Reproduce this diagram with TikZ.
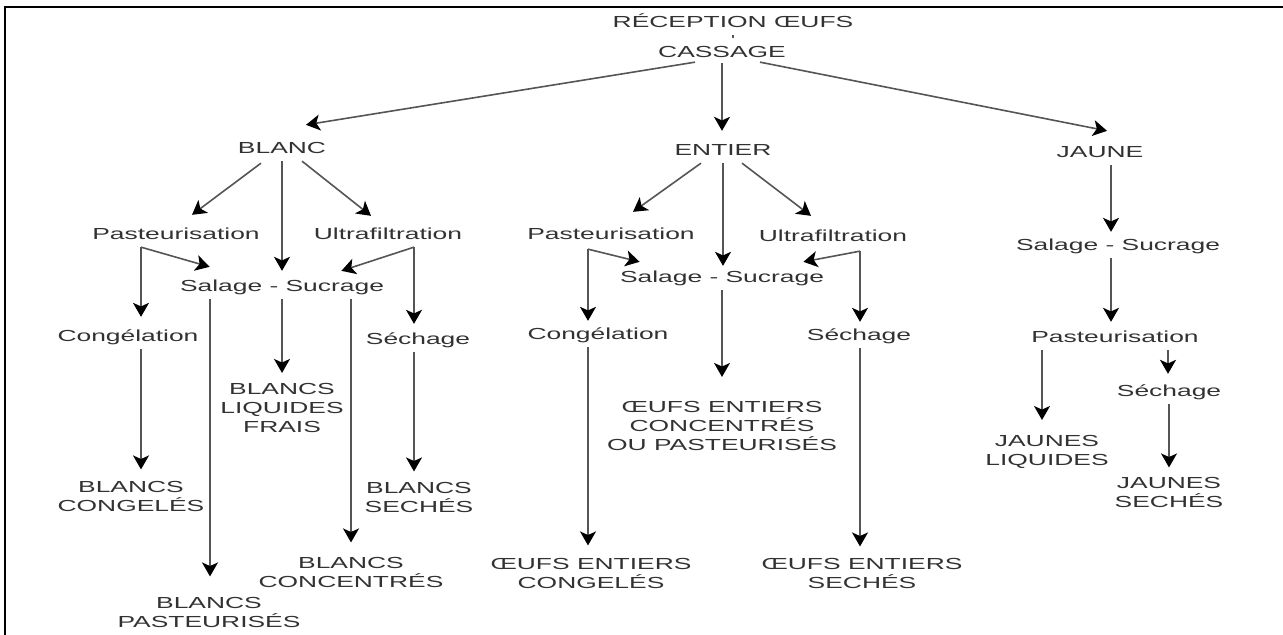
\documentclass[tikz,border=0pt]{standalone}
\usepackage{fontspec}
\newfontfamily\flowfont{Liberation Sans}[FakeStretch=1.65]
\usetikzlibrary{arrows.meta, positioning, calc}
\definecolor{ink}{RGB}{50,50,50}
\definecolor{wire}{RGB}{85,85,85}
\tikzset{
  lbl/.style={text=ink, font=\flowfont\fontsize{8}{9.5}\selectfont,
              inner sep=2pt, text height=6pt, text depth=1.76pt},
  prod/.style={text=ink, font=\flowfont\fontsize{8}{9.5}\selectfont,
               inner sep=2pt, align=center},
  arrow/.style={-{Stealth[length=7pt, width=8pt, inset=1.8pt, color=black]},
                draw=wire, line width=0.8pt},
  link/.style={draw=wire, line width=0.8pt},
}

\begin{document}
\begin{tikzpicture}[x=0.5pt, y=-0.5pt]
    \useasboundingbox (0,0) rectangle (1283,635);
    \draw[line width=0.9pt] (5,635) -- (5,7) -- (1283,7);

    \node[lbl] (recep) at (733,23) {RÉCEPTION ŒUFS};
    \node[lbl] (cass) at (722,53) {CASSAGE};
    \node[lbl] (blanc) at (282,149) {BLANC};
    \node[lbl] (entier) at (723,151) {ENTIER};
    \node[lbl] (jaune) at (1100,153) {JAUNE};

    \node[lbl] (bpast) at (176,235) {Pasteurisation};
    \node[lbl] (bultra) at (388,235) {Ultrafiltration};
    \node[lbl] (bsal) at (282,287) {Salage - Sucrage};
    \node[lbl] (bcong) at (128,337) {Congélation};
    \node[lbl] (bsech) at (418,340) {Séchage};
    \node[prod] (bliq) at (282,408) {BLANCS\\LIQUIDES\\FRAIS};
    \node[prod] (bcongp) at (131,496) {BLANCS\\CONGELÉS};
    \node[prod] (bsechp) at (419,497) {BLANCS\\SECHÉS};
    \node[prod] (bconc) at (351,572) {BLANCS\\CONCENTRÉS};
    \node[prod] (bpastp) at (209,612) {BLANCS\\PASTEURISÉS};

    \node[lbl] (epast) at (611,235) {Pasteurisation};
    \node[lbl] (eultra) at (833,237) {Ultrafiltration};
    \node[lbl] (esal) at (722,278) {Salage - Sucrage};
    \node[lbl] (econg) at (598,335) {Congélation};
    \node[lbl] (esech) at (859,336) {Séchage};
    \node[prod] (econc) at (722,426) {ŒUFS ENTIERS\\CONCENTRÉS\\OU PASTEURISÉS};
    \node[prod] (econgp) at (591,573) {ŒUFS ENTIERS\\CONGELÉS};
    \node[prod] (esechp) at (862,573) {ŒUFS ENTIERS\\SECHÉS};

    \node[lbl] (jsal) at (1118,246) {Salage - Sucrage};
    \node[lbl] (jpast) at (1115,338) {Pasteurisation};
    \node[lbl] (jsech) at (1169,392) {Séchage};
    \node[prod] (jliq) at (1047,452) {JAUNES\\LIQUIDES};
    \node[prod] (jsechp) at (1169,492) {JAUNES\\SECHÉS};

    \coordinate (bpfork) at ([xshift=-17.5pt]bpast.south);
    \coordinate (bufork) at ([xshift=13pt]bultra.south);
    \coordinate (epfork) at ([xshift=-11.5pt,yshift=-1pt]epast.south);
    \coordinate (eufork) at ([xshift=13.5pt,yshift=-1pt]eultra.south);

    \draw[link] (recep.south) -- ([yshift=1.5pt]recep.south |- cass.north);
    \draw[arrow] ([xshift=-13.5pt,yshift=1.5pt]cass.south) -- ([xshift=12pt,yshift=6pt]blanc.north);
    \draw[arrow] ([yshift=1pt]cass.south) -- ([yshift=4pt]cass.south |- entier.north);
    \draw[arrow] ([xshift=19pt,yshift=1.5pt]cass.south) -- ([xshift=3.5pt,yshift=5pt]jaune.north);

    \draw[arrow] ([xshift=-10.5pt,yshift=-1pt]blanc.south) -- ([xshift=8pt,yshift=4pt]bpast.north);
    \draw[arrow] ([xshift=10pt]blanc.south) -- ([xshift=-8.5pt,yshift=3.5pt]bultra.north);
    \draw[arrow] (blanc.south) -- ([yshift=2pt]bsal.north);
    \draw[arrow] (bpfork) -- ([xshift=17pt,yshift=4pt]bsal.north west);
    \draw[arrow] (bpfork) -- ([yshift=4pt]bpfork |- bcong.north);
    \draw[arrow] (bufork) -- ([xshift=-23.5pt,yshift=2pt]bsal.north east);
    \draw[arrow] (bufork) -- ([yshift=2pt]bufork |- bsech.north);
    \draw[arrow] ([xshift=-36pt]bsal.south) -- ([xshift=-36pt,yshift=8pt]bsal.south |- bpastp.north);
    \draw[arrow] (bsal.south) -- ([yshift=3pt]bliq.north);
    \draw[arrow] ([xshift=34.5pt]bsal.south) -- ([xshift=34.5pt,yshift=5pt]bsal.south |- bconc.north);
    \draw[arrow] (bpfork |- bcong.south) -- ([yshift=3.5pt]bpfork |- bcongp.north);
    \draw[arrow] (bufork |- bsech.south) -- ([yshift=3pt]bufork |- bsechp.north);

    \draw[arrow] ([xshift=-11pt]entier.south) -- ([xshift=11pt,yshift=5.5pt]epast.north);
    \draw[arrow] ([xshift=9.5pt]entier.south) -- ([xshift=-11pt,yshift=4.5pt]eultra.north);
    \draw[arrow] (entier.south) -- (entier.south |- esal.north);
    \draw[arrow] (epfork) -- ([xshift=12pt,yshift=2pt]esal.north west);
    \draw[arrow] (epfork) -- ([yshift=1pt]epfork |- econg.north);
    \draw[arrow] (eufork) -- ([xshift=-12.5pt,yshift=2pt]esal.north east);
    \draw[arrow] (eufork) -- ([yshift=1pt]eufork |- esech.north);
    \draw[arrow] (esal.south) -- ([yshift=10pt]econc.north);
    \draw[arrow] (epfork |- econg.south) -- ([yshift=4pt]epfork |- econgp.north);
    \draw[arrow] (eufork |- esech.south) -- ([yshift=3.5pt]eufork |- esechp.north);

    \draw[arrow] ([xshift=5.5pt]jaune.south) -- ([xshift=5.5pt,yshift=1pt]jaune.south |- jsal.north);
    \draw[arrow] ([xshift=-3.5pt]jsal.south) -- ([xshift=-3.5pt,yshift=2pt]jsal.south |- jpast.north);
    \draw[arrow] ([xshift=-36.5pt]jpast.south) -- ([xshift=-36.5pt,yshift=5.5pt]jpast.south |- jliq.north);
    \draw[arrow] ([xshift=26.5pt]jpast.south) -- ([xshift=26.5pt,yshift=3pt]jpast.south |- jsech.north);
    \draw[arrow] (jsech.south) -- ([yshift=2.5pt]jsechp.north);
\end{tikzpicture}
\end{document}
